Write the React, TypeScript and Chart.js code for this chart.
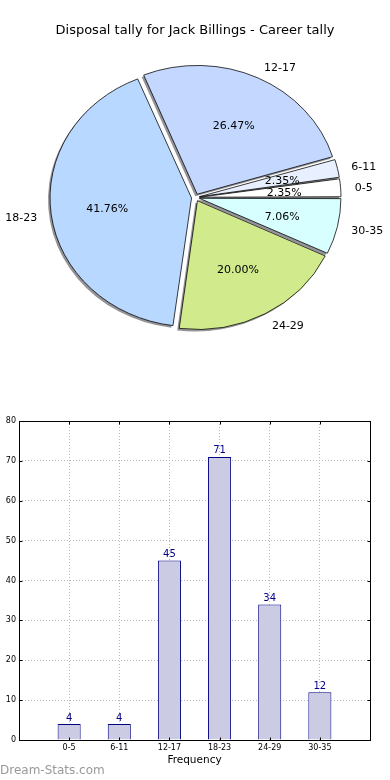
import React, { useEffect, useRef } from 'react';
import { Chart, registerables } from 'chart.js';

Chart.register(...registerables);

// ---- data ----
const chartTitle = 'Disposal tally for Jack Billings - Career tally';
const categories = ['0-5', '6-11', '12-17', '18-23', '24-29', '30-35'];
const disposals = [4, 4, 45, 71, 34, 12];
const pieColors = ['#ffffff', '#e8f0ff', '#c4d8ff', '#b8d8ff', '#d0ea8c', '#d8ffff'];
const yMin = 0;
const yMax = 80;
const yStep = 10;
const xTitle = 'Frequency';
const watermark = 'Dream-Stats.com';

// ---- style constants ----
const FONT = "'DejaVu Sans', 'Liberation Sans', sans-serif";
const PIE_SCALE_Y = 0.91;
const EXPLODE = 4;
const RADIUS = 141.5;
const SHADOW_DX = -2;
const SHADOW_DY = 2;
const LABEL_DY = 1.5;

const total = disposals.reduce((a, b) => a + b, 0);
// Chart.js draws clockwise; the reference goes counter-clockwise from 3 o'clock
const pieLabels = [...categories].reverse();
const pieValues = [...disposals].reverse();
const pieBg = [...pieColors].reverse();

const piePlugin = {
  id: 'pieExtras',
  afterDatasetsUpdate(chart: any) {
    const meta = chart.getDatasetMeta(0);
    meta.data.forEach((arc: any) => {
      const circ = arc.endAngle - arc.startAngle;
      const fix = 1 - Math.sin(Math.min(Math.PI, circ));
      arc.outerRadius = RADIUS - EXPLODE * fix;
    });
  },
  beforeDatasetsDraw(chart: any) {
    const ctx = chart.ctx;
    const meta = chart.getDatasetMeta(0);
    const a0 = meta.data[0];
    const cx = a0.x, cy = a0.y;
    ctx.save();
    ctx.translate(cx, cy);
    ctx.scale(1, PIE_SCALE_Y);
    ctx.translate(-cx, -cy);
    meta.data.forEach((arc: any) => {
      const mid = (arc.startAngle + arc.endAngle) / 2;
      const x = arc.x + Math.cos(mid) * EXPLODE + SHADOW_DX;
      const y = arc.y + Math.sin(mid) * EXPLODE + SHADOW_DY / PIE_SCALE_Y;
      ctx.beginPath();
      ctx.moveTo(x, y);
      ctx.arc(x, y, RADIUS, arc.startAngle, arc.endAngle);
      ctx.closePath();
      ctx.fillStyle = 'rgba(40,40,50,0.5)';
      ctx.fill();
    });
  },
  afterDatasetsDraw(chart: any) {
    const ctx = chart.ctx;
    ctx.restore();
    const meta = chart.getDatasetMeta(0);
    const data = chart.data.datasets[0].data;
    const labels = chart.data.labels;
    ctx.save();
    ctx.fillStyle = '#000';
    ctx.font = `11px ${FONT}`;
    ctx.textBaseline = 'middle';
    meta.data.forEach((arc: any, i: number) => {
      const mid = (arc.startAngle + arc.endAngle) / 2;
      const c = Math.cos(mid), s = Math.sin(mid);
      const lr = EXPLODE + 1.1 * RADIUS;
      const lx = arc.x + c * lr;
      const ly = arc.y + s * lr * PIE_SCALE_Y + LABEL_DY;
      ctx.textAlign = c > 0 ? 'left' : 'right';
      ctx.fillText(labels[i], lx, ly);
      const pr = EXPLODE + 0.6 * RADIUS;
      const px = arc.x + c * pr;
      const py = arc.y + s * pr * PIE_SCALE_Y + LABEL_DY;
      ctx.textAlign = 'center';
      ctx.fillText(((data[i] / total) * 100).toFixed(2) + '%', px, py);
    });
    ctx.font = `13px ${FONT}`;
    ctx.textAlign = 'center';
    ctx.fillText(chartTitle, chart.width / 2, 31);
    ctx.restore();
  },
};

const barPlugin = {
  id: 'barExtras',
  afterDraw(chart: any) {
    const ctx = chart.ctx;
    const { left, right, top, bottom } = chart.chartArea;
    const L = Math.round(left) + 0.5, R = Math.round(right) + 0.5;
    const T = Math.round(top) + 0.5, B = Math.round(bottom) + 0.5;
    ctx.save();
    ctx.strokeStyle = '#000';
    ctx.lineWidth = 1;
    ctx.strokeRect(L, T, R - L, B - T);
    // inward tick marks
    const ys = chart.scales.y;
    const xs = chart.scales.x;
    ctx.beginPath();
    for (let v = yMin; v <= yMax; v += yStep) {
      const y = Math.round(ys.getPixelForValue(v)) + 0.5;
      ctx.moveTo(L, y); ctx.lineTo(L + 3, y);
      ctx.moveTo(R, y); ctx.lineTo(R - 3, y);
    }
    categories.forEach((_, i) => {
      const x = Math.round(xs.getPixelForValue(i + 1)) + 0.5;
      ctx.moveTo(x, T); ctx.lineTo(x, T + 3);
      ctx.moveTo(x, B); ctx.lineTo(x, B - 3);
    });
    ctx.stroke();
    // value labels
    const meta = chart.getDatasetMeta(0);
    const data = chart.data.datasets[0].data;
    ctx.fillStyle = '#00008b';
    ctx.font = `10px ${FONT}`;
    ctx.textAlign = 'center';
    ctx.textBaseline = 'bottom';
    meta.data.forEach((bar: any, i: number) => {
      if (data[i] == null) return;
      ctx.fillText(String(data[i]), bar.x, bar.y - 1);
    });
    ctx.restore();
  },
};

export default function App() {
  const pieRef = useRef<HTMLCanvasElement>(null);
  const barRef = useRef<HTMLCanvasElement>(null);

  useEffect(() => {
    const pie = new Chart(pieRef.current as HTMLCanvasElement, {
      type: 'pie',
      data: {
        labels: pieLabels,
        datasets: [
          {
            data: pieValues,
            backgroundColor: pieBg,
            borderColor: '#000',
            borderWidth: 0.8,
            offset: EXPLODE * 4,
            hoverOffset: 0,
            clip: false as any,
          },
        ],
      },
      options: {
        animation: false,
        responsive: false,
        devicePixelRatio: 1,
        rotation: 90,
        radius: RADIUS,
        layout: { padding: { left: 1, right: 0, top: 0, bottom: 0 } },
        plugins: { legend: { display: false }, tooltip: { enabled: false }, title: { display: false } },
        events: [],
      } as any,
      plugins: [piePlugin],
    });

    const bar = new Chart(barRef.current as HTMLCanvasElement, {
      type: 'bar',
      data: {
        labels: ['', ...categories, ''],
        datasets: [
          {
            data: [null, ...disposals, null],
            backgroundColor: '#cbcbe4',
            borderColor: '#000080',
            borderWidth: 1,
            barPercentage: 0.46,
            categoryPercentage: 1,
          },
        ],
      },
      options: {
        animation: false,
        responsive: false,
        devicePixelRatio: 1,
        events: [],
        layout: { padding: { left: 0, right: 20, top: 21, bottom: 0 } },
        plugins: { legend: { display: false }, tooltip: { enabled: false } },
        scales: {
          x: {
            offset: false,
            z: 1,
            grid: { color: '#b8b8b8', lineWidth: 1, drawTicks: false, offset: false },
            border: { display: false, dash: [1, 2] },
            ticks: { font: { family: FONT, size: 8 }, color: '#000', padding: 3, autoSkip: false, maxRotation: 0 },
            title: { display: true, text: xTitle, font: { family: FONT, size: 10.5 }, color: '#000', padding: { top: 0, bottom: 13.7 } },
            afterFit: (s: any) => { s.height = 40; },
          },
          y: {
            min: yMin,
            max: yMax,
            z: 1,
            grid: { color: '#b8b8b8', lineWidth: 1, drawTicks: false },
            border: { display: false, dash: [1, 2] },
            ticks: { stepSize: yStep, font: { family: FONT, size: 8 }, color: '#000', padding: 3 },
            afterFit: (s: any) => { s.width = 19; },
          },
        },
      } as any,
      plugins: [barPlugin],
    });

    return () => {
      pie.destroy();
      bar.destroy();
    };
  }, []);

  return (
    <div style={{ position: 'absolute', left: 0, top: 0, width: 390, height: 780, background: '#fff', overflow: 'hidden' }}>
      <canvas ref={pieRef} width={390} height={395} style={{ position: 'absolute', left: 0, top: 0 }} />
      <canvas ref={barRef} width={390} height={380} style={{ position: 'absolute', left: 0, top: 400 }} />
      <div
        style={{
          position: 'absolute',
          left: 0,
          top: 762,
          fontFamily: FONT,
          fontSize: 12,
          color: '#999999',
          lineHeight: '16px',
          whiteSpace: 'nowrap',
        }}
      >
        {watermark}
      </div>
    </div>
  );
}
